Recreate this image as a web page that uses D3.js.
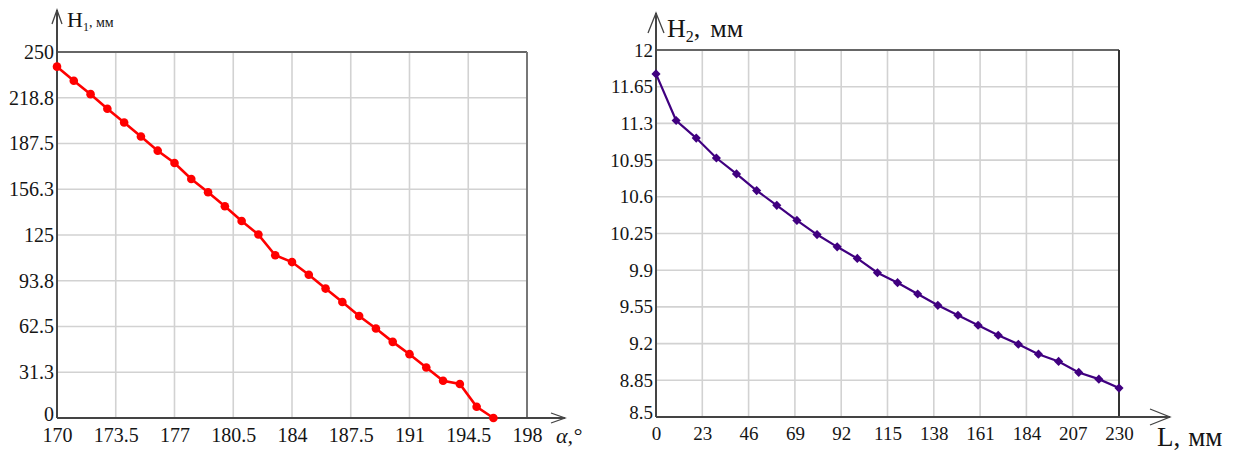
<!DOCTYPE html>
<html lang="ru">
<head>
  <meta charset="UTF-8">
  <title>H1, H2</title>
  <style>
    body { margin: 0; background: #fff; }
    text { font-family: "Liberation Serif", "Times New Roman", Tinos, "DejaVu Serif", serif; fill: #151515; }
  </style>
</head>
<body>
  <svg id="container" width="1243" height="452"></svg>
<script src="https://cdn.jsdelivr.net/npm/d3@7"></script>
<script>
  // left chart: H1 vs alpha
  let alpha = [170,171,172,173,174,175,176,177,178,179,180,181,182,183,184,185,186,187,188,189,190,191,192,193,194,195,196]
  let h1 = [240,230.4,221.2,211.2,201.8,192.3,182.6,174.2,163.3,154.2,144.6,134.6,125.3,111.2,106.5,97.8,88.4,79.2,69.7,61.1,52,43.6,34.5,25.4,23.2,7.7,0]
  let alphaTicks = [170,173.5,177,180.5,184,187.5,191,194.5,198]
  let h1Ticks = [0,31.25,62.5,93.75,125,156.25,187.5,218.75,250]
  let h1TickLabels = ["0","31.3","62.5","93.8","125","156.3","187.5","218.8","250"]

  // right chart: H2 vs L
  let lengths = [0,10,20,30,40,50,60,70,80,90,100,110,120,130,140,150,160,170,180,190,200,210,220,230]
  let h2 = [11.772,11.328,11.16,10.97,10.818,10.659,10.519,10.375,10.24,10.123,10.012,9.876,9.781,9.673,9.565,9.47,9.375,9.28,9.194,9.099,9.03,8.925,8.861,8.776]
  let lTicks = [0,23,46,69,92,115,138,161,184,207,230]
  let h2Ticks = [8.5,8.85,9.2,9.55,9.9,10.25,10.6,10.95,11.3,11.65,12]
  let h2TickLabels = ["8.5","8.85","9.2","9.55","9.9","10.25","10.6","10.95","11.3","11.65","12"]

  let svg = d3.select("#container")
  let serif = '"Liberation Serif", "Times New Roman", Tinos, "DejaVu Serif", serif'

  function drawFrame(g, x, y, xt, yt, opt){
    let [x0, x1] = x.range()
    let [y0, y1] = y.range()

    g.append("g").selectAll("line").data(xt.slice(1, -1)).enter().append("line")
     .attr("x1", d => x(d)).attr("x2", d => x(d))
     .attr("y1", y0).attr("y2", y1)
     .attr("stroke", "#d2d2d2").attr("stroke-width", 1.6)
    g.append("g").selectAll("line").data(yt.slice(1, -1)).enter().append("line")
     .attr("x1", x0).attr("x2", x1)
     .attr("y1", d => y(d)).attr("y2", d => y(d))
     .attr("stroke", "#d2d2d2").attr("stroke-width", 1.6)

    // top and right borders
    g.append("line").attr("x1", x0).attr("x2", x1).attr("y1", y1).attr("y2", y1)
     .attr("stroke", "#666").attr("stroke-width", 2)
    g.append("line").attr("x1", x1).attr("x2", x1).attr("y1", y1).attr("y2", y0)
     .attr("stroke", opt.rightColor).attr("stroke-width", 2)

    // axes with arrows
    g.append("line").attr("x1", x0).attr("x2", opt.xEnd).attr("y1", y0).attr("y2", y0)
     .attr("stroke", "#444").attr("stroke-width", 2)
    g.append("line").attr("x1", x0).attr("x2", x0).attr("y1", y0).attr("y2", opt.yEnd)
     .attr("stroke", "#444").attr("stroke-width", 2)
    g.append("path")
     .attr("d", `M${opt.xEnd - opt.ax},${y0 - opt.ay}L${opt.xEnd},${y0}L${opt.xEnd - opt.ax},${y0 + opt.ay}`)
     .attr("fill", "none").attr("stroke", "#444").attr("stroke-width", 1.3)
    g.append("path")
     .attr("d", `M${x0 - opt.ay},${opt.yEnd + opt.ax}L${x0},${opt.yEnd}L${x0 + opt.ay},${opt.yEnd + opt.ax}`)
     .attr("fill", "none").attr("stroke", "#444").attr("stroke-width", 1.3)

    let xAxis = d3.axisBottom(x).tickValues(xt).tickSize(0).tickPadding(opt.xPad)
                  .tickFormat(d => String(d))
    let gx = g.append("g").attr("transform", `translate(0,${y0})`).call(xAxis)
    gx.attr("font-family", serif)
    gx.select(".domain").remove()
    gx.selectAll("text").style("font-family", serif).style("font-size", opt.font).attr("fill", "#151515")

    let yAxis = d3.axisLeft(y).tickValues(yt).tickSize(0).tickPadding(3)
                  .tickFormat((d, i) => opt.yLabels[i])
    let gy = g.append("g").attr("transform", `translate(${x0},0)`).call(yAxis)
    gy.attr("font-family", serif)
    gy.select(".domain").remove()
    gy.selectAll("text").style("font-family", serif).style("font-size", opt.font).attr("fill", "#151515")
    gy.selectAll(".tick").filter(d => d === yt[0]).select("text").attr("dy", "0.1em")
  }

  // ---- left chart
  let x1s = d3.scaleLinear().domain([170, 198]).range([57, 527])
  let y1s = d3.scaleLinear().domain([0, 250]).range([418, 52])
  let left = svg.append("g")
  drawFrame(left, x1s, y1s, alphaTicks, h1Ticks,
            {rightColor: "#777", xEnd: 565, yEnd: 10, ax: 14, ay: 5, font: "20px", xPad: 10, yLabels: h1TickLabels})

  let pts1 = alpha.map((a, i) => [a, h1[i]])
  left.append("path").datum(pts1)
      .attr("d", d3.line().x(d => x1s(d[0])).y(d => y1s(d[1])))
      .attr("fill", "none").attr("stroke", "#ff0000").attr("stroke-width", 2.6)
  left.append("g").selectAll("circle").data(pts1).enter().append("circle")
      .attr("cx", d => x1s(d[0])).attr("cy", d => y1s(d[1]))
      .attr("r", 4.3).attr("fill", "#ff0000")

  left.append("text").attr("x", 67).attr("y", 27).style("font-size", "22px")
      .html('H<tspan style="font-size:12px" dy="4">1</tspan><tspan style="font-size:14px" dy="-4">, мм</tspan>')
  left.append("text").attr("x", 556).attr("y", 443).style("font-size", "22px").style("font-style", "italic")
      .text("α,°")

  // ---- right chart
  let x2s = d3.scaleLinear().domain([0, 230]).range([656, 1119])
  let y2s = d3.scaleLinear().domain([8.5, 12]).range([417, 50])
  let right = svg.append("g")
  drawFrame(right, x2s, y2s, lTicks, h2Ticks,
            {rightColor: "#333", xEnd: 1170, yEnd: 13, ax: 20, ay: 8, font: "19px", xPad: 10, yLabels: h2TickLabels})

  let pts2 = lengths.map((l, i) => [l, h2[i]])
  right.append("path").datum(pts2)
       .attr("d", d3.line().x(d => x2s(d[0])).y(d => y2s(d[1])))
       .attr("fill", "none").attr("stroke", "#400080").attr("stroke-width", 2.2)
  right.append("g").selectAll("path.mk").data(pts2).enter().append("path")
       .attr("class", "mk")
       .attr("d", d3.symbol().type(d3.symbolSquare).size(42))
       .attr("transform", d => `translate(${x2s(d[0])},${y2s(d[1])}) rotate(45)`)
       .attr("fill", "#400080")

  right.append("text").attr("x", 667).attr("y", 37).style("font-size", "26px")
       .html('H<tspan style="font-size:16px" dy="5">2</tspan><tspan dy="-5">,</tspan><tspan dx="10">мм</tspan>')
  right.append("text").attr("x", 1157).attr("y", 446).style("font-size", "27px")
       .html('L,<tspan dx="8">мм</tspan>')
</script>
</body>
</html>
